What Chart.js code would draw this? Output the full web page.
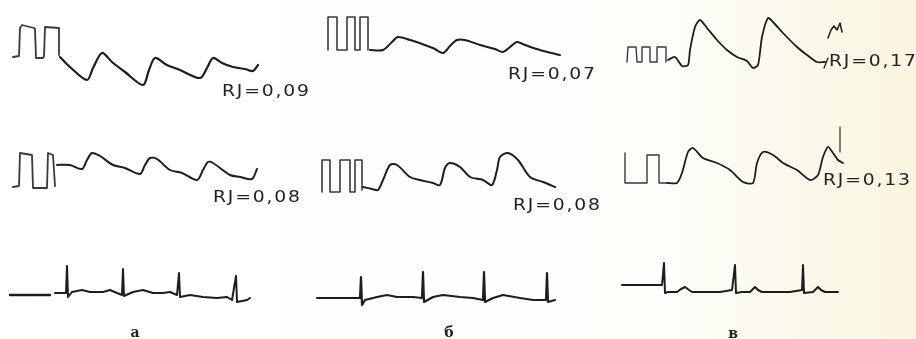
<!DOCTYPE html>
<html>
<head>
<meta charset="utf-8">
<script src="https://cdn.jsdelivr.net/npm/chart.js@4.4.1/dist/chart.umd.min.js"></script>
<style>
    body { margin: 0; background: #ffffff; }
    #reograma { display: block; }
</style>
</head>
<body>
<canvas id="reograma" width="916" height="339"></canvas>
<script>
// Pulsos de calibracion (x, y en unidades de la figura)
const calA1 = [[13,57],[19,56],[20,28],[22,25],[34,28],[35,29],[36,58],[43,58],[44,56],[45,27],[59,28],[59,55]];
const calB1 = [[328,50],[328,17],[337,17],[337,50],[347,50],[347,17],[355,17],[355,50],[360,50],[360,17],[368,17],[368,50]];
const calC1 = [[627,62],[628,47],[636,47],[637,62],[642,62],[642,47],[650,47],[650,62],[657,62],[657,47],[666,47],[666,62]];
const calA2 = [[13,187],[19,186],[20,153],[32,155],[33,188],[47,188],[48,153],[53,155],[55,186]];
const calB2 = [[322,192],[322,160],[330,160],[330,192],[340,192],[340,160],[350,160],[350,192],[355,192],[355,160],[362,160],[362,190]];
const calC2 = [[625,153],[625,183],[647,183],[647,155],[650,155],[659,155],[659,183],[667,183]];

// Reogramas
const reoA1 = [[60,57],[70,67],[87,80],[93,68],[102,53],[112,62],[125,72],[143,85],[149,70],[155,58],[167,65],[180,70],[200,78],[207,68],[213,58],[222,63],[233,67],[245,69],[253,71],[258,65]];
const reoB1 = [[370,50],[383,50],[392,42],[398,37],[410,40],[422,44],[433,48],[443,53],[450,46],[457,40],[465,40],[480,45],[495,49],[503,52],[510,47],[517,42],[525,45],[540,50],[560,55]];
const reoC1 = [[668,60],[675,57],[682,66],[688,65],[690,50],[695,27],[700,20],[707,28],[717,40],[727,50],[737,57],[747,61],[753,68],[758,65],[762,37],[768,18],[773,22],[783,33],[797,47],[807,55],[817,62],[825,62]];
const colaC1 = [[824,68],[828,58]];
const picoC1 = [[828,38],[831,30],[834,26],[837,30],[840,23],[842,32]];
const reoA2 = [[57,165],[70,165],[82,169],[87,160],[92,153],[100,156],[113,165],[125,168],[140,174],[145,165],[150,158],[157,159],[170,170],[182,173],[197,180],[203,170],[208,162],[213,163],[230,175],[240,177],[252,179],[257,169]];
const reoB2 = [[363,187],[372,189],[378,190],[383,180],[390,165],[397,165],[410,177],[420,180],[433,183],[440,185],[445,168],[450,163],[460,167],[470,177],[483,180],[492,185],[497,170],[500,157],[508,153],[518,160],[530,177],[543,182],[555,187]];
const reoC2 = [[667,183],[677,183],[682,173],[688,152],[693,148],[703,158],[717,163],[730,170],[743,182],[753,183],[757,163],[763,152],[773,155],[783,163],[797,170],[810,180],[818,175],[823,157],[828,147],[833,153],[838,160],[843,163]];
const marcaC2 = [[840,127],[840,152]];

// ECG
const ecgA0 = [[10,295],[50,295]];
const ecgA = [[55,293],[58,293],[63,293],[66,293],[67,266],[68,297],[72,292],[82,290],[90,292],[103,292],[110,290],[117,293],[122,295],[123,269],[124,296],[133,292],[143,290],[153,293],[163,293],[170,292],[177,295],[179,273],[180,297],[190,295],[203,297],[217,298],[227,297],[232,300],[236,276],[237,302],[247,300],[250,298]];
const ecgB = [[317,298],[357,298],[360,298],[361,277],[362,305],[365,300],[377,297],[387,295],[397,297],[413,297],[422,298],[423,272],[424,302],[433,297],[443,295],[460,297],[473,298],[483,300],[484,272],[485,302],[493,298],[503,295],[520,298],[533,300],[543,300],[546,300],[547,273],[548,302],[555,300]];
const ecgC = [[622,285],[662,285],[664,263],[665,293],[668,292],[677,292],[681,289],[685,287],[689,290],[692,292],[720,292],[732,290],[735,265],[736,293],[742,292],[750,292],[753,289],[755,287],[758,290],[762,292],[790,292],[802,290],[803,265],[804,293],[813,292],[816,289],[818,287],[821,290],[825,292],[838,292]];

// Indices y letras
const indices = ['RJ=0,09', 'RJ=0,07', 'RJ=0,17', 'RJ=0,08', 'RJ=0,08', 'RJ=0,13'];
const indicePos = [[222,92],[508,75],[829,62],[213,198],[513,206],[823,181]];
const letras = ['а', 'б', 'в'];
const letraPos = [[135,337],[449,337],[733,338]];

function serie(puntos, color, ancho, curva) {
    return {
        data: puntos.map(function(p){ return { x: p[0], y: p[1] }; }),
        showLine: true,
        borderColor: color,
        borderWidth: ancho,
        pointRadius: 0,
        tension: curva || 0,
        borderJoinStyle: 'round',
        borderCapStyle: 'round'
    };
}

// Fondo amarillento del papel a la derecha
const fondoPlugin = {
    id: 'fondo',
    beforeDraw: function(chart) {
        const ctx = chart.ctx;
        const g = ctx.createLinearGradient(0, 0, chart.width, 0);
        g.addColorStop(0, '#ffffff');
        g.addColorStop(0.72, '#fefefb');
        g.addColorStop(0.86, '#fbf9ec');
        g.addColorStop(1, '#f9f5df');
        ctx.save();
        ctx.fillStyle = g;
        ctx.fillRect(0, 0, chart.width, chart.height);
        ctx.restore();
    }
};

// Textos dibujados con las escalas del grafico
const textoPlugin = {
    id: 'textos',
    afterDatasetsDraw: function(chart) {
        const ctx = chart.ctx;
        const sx = chart.scales.x;
        const sy = chart.scales.y;
        const ancho = 1.25;
        ctx.save();
        ctx.fillStyle = '#222222';
        ctx.textBaseline = 'middle';
        ctx.font = '15px "DejaVu Sans"';
        indices.forEach(function(t, i) {
            let x = sx.getPixelForValue(indicePos[i][0]);
            const y = sy.getPixelForValue(indicePos[i][1]);
            for (const c of t) {
                ctx.save();
                ctx.translate(x, y);
                ctx.scale(ancho, 1);
                ctx.fillText(c, 0, 0);
                ctx.restore();
                x += ctx.measureText(c).width * ancho + 1.8;
            }
        });
        ctx.textBaseline = 'alphabetic';
        ctx.textAlign = 'center';
        ctx.font = 'bold 14px "DejaVu Serif"';
        letras.forEach(function(t, i) {
            ctx.fillText(t, sx.getPixelForValue(letraPos[i][0]), sy.getPixelForValue(letraPos[i][1]));
        });
        ctx.restore();
    }
};

const tinta = '#1d1d1d';
const gris = '#3a3a3a';

new Chart(document.getElementById('reograma'), {
    type: 'scatter',
    data: {
        datasets: [
            serie(calA1, gris, 1.8), serie(calB1, gris, 1.6), serie(calC1, gris, 1.4),
            serie(calA2, gris, 1.8), serie(calB2, gris, 1.6), serie(calC2, gris, 1.4),
            serie(reoA1, tinta, 2.2, 0.3), serie(reoB1, tinta, 2, 0.3), serie(reoC1, tinta, 1.8, 0.25),
            serie(colaC1, tinta, 1.3), serie(picoC1, tinta, 1.5),
            serie(reoA2, tinta, 2, 0.3), serie(reoB2, tinta, 2, 0.3), serie(reoC2, tinta, 1.8, 0.25), serie(marcaC2, gris, 1.3),
            serie(ecgA0, tinta, 2.4), serie(ecgA, tinta, 2), serie(ecgB, tinta, 2.2), serie(ecgC, tinta, 2)
        ]
    },
    options: {
        responsive: false,
        animation: false,
        devicePixelRatio: 1,
        layout: { padding: 0 },
        plugins: {
            legend: { display: false },
            tooltip: { enabled: false }
        },
        scales: {
            x: { type: 'linear', min: 0, max: 916, display: false },
            y: { type: 'linear', min: 0, max: 339, reverse: true, display: false }
        }
    },
    plugins: [fondoPlugin, textoPlugin]
});
</script>
</body>
</html>
